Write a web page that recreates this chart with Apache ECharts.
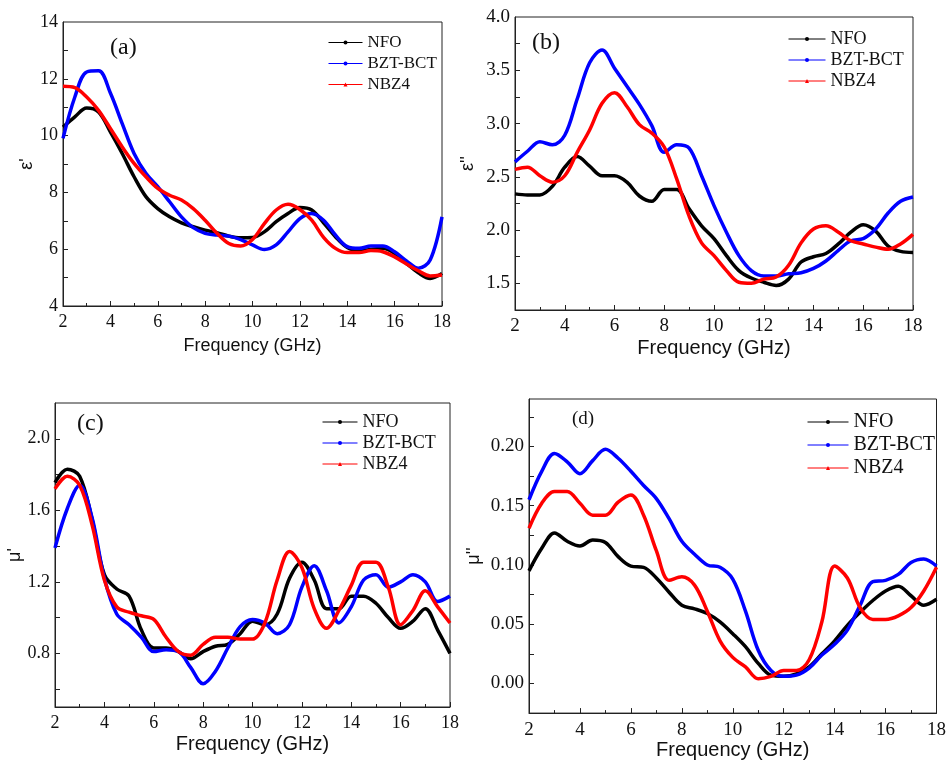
<!DOCTYPE html>
<html>
<head>
<meta charset="utf-8">
<script src="https://cdn.jsdelivr.net/npm/echarts@6/dist/echarts.min.js"></script>
<style>
  html, body { margin: 0; padding: 0; background: #fff; }
  #main { width: 949px; height: 761px; }
</style>
</head>
<body>
<div id="main"></div>
<script>
// frequency points (GHz), shared by all panels
const freq = [2, 2.5, 3, 3.5, 4, 4.5, 5, 5.5, 6, 6.5, 7, 7.5, 8, 8.5, 9, 9.5, 10,
  10.5, 11, 11.5, 12, 12.5, 13, 13.5, 14, 14.5, 15, 15.5, 16, 16.5, 17, 17.5, 18]

const names = ['NFO', 'BZT-BCT', 'NBZ4']

// (a) eps'
const epsRealNFO = [10.3, 10.66, 10.97, 10.83, 10.13, 9.37, 8.55, 7.85, 7.43, 7.14, 6.93, 6.79, 6.67, 6.58, 6.46, 6.40, 6.41,
  6.61, 6.97, 7.26, 7.47, 7.38, 6.93, 6.44, 6.06, 5.95, 5.99, 6.03, 5.85, 5.50, 5.17, 4.97, 5.15]
const epsRealBZT = [9.9, 11.36, 12.24, 12.28, 11.5, 10.42, 9.37, 8.67, 8.2, 7.67, 7.14, 6.76, 6.56, 6.50, 6.46, 6.34, 6.15,
  5.99, 6.15, 6.61, 7.08, 7.26, 7.02, 6.50, 6.09, 6.03, 6.11, 6.11, 5.91, 5.59, 5.33, 5.62, 7.14]
const epsRealNBZ = [11.74, 11.69, 11.36, 10.89, 10.25, 9.6, 9.02, 8.55, 8.14, 7.9, 7.73, 7.43, 7.02, 6.56, 6.2, 6.11, 6.34,
  6.9, 7.38, 7.58, 7.40, 7.02, 6.42, 6.03, 5.88, 5.88, 5.95, 5.91, 5.73, 5.48, 5.24, 5.06, 5.09]

// (b) eps''
const epsImagNFO = [2.34, 2.33, 2.33, 2.41, 2.59, 2.69, 2.60, 2.51, 2.51, 2.45, 2.32, 2.27, 2.38, 2.38, 2.20, 2.04, 1.92,
  1.76, 1.62, 1.55, 1.51, 1.48, 1.54, 1.70, 1.75, 1.78, 1.87, 1.98, 2.05, 1.99, 1.85, 1.80, 1.79]
const epsImagBZT = [2.64, 2.74, 2.83, 2.80, 2.89, 3.23, 3.57, 3.69, 3.52, 3.35, 3.18, 2.98, 2.73, 2.80, 2.77, 2.51, 2.23,
  1.98, 1.76, 1.62, 1.57, 1.57, 1.59, 1.60, 1.64, 1.71, 1.81, 1.90, 1.92, 2.01, 2.16, 2.27, 2.31]
const epsImagNBZ = [2.57, 2.59, 2.51, 2.45, 2.51, 2.73, 2.94, 3.19, 3.29, 3.16, 2.99, 2.91, 2.78, 2.48, 2.13, 1.88, 1.76,
  1.62, 1.51, 1.50, 1.54, 1.56, 1.67, 1.88, 2.01, 2.04, 1.98, 1.90, 1.87, 1.84, 1.82, 1.87, 1.96]

// (c) mu'
const muRealNFO = [1.755, 1.83, 1.79, 1.55, 1.24, 1.16, 1.12, 0.93, 0.83, 0.83, 0.81, 0.77, 0.81, 0.84, 0.85, 0.91, 0.98,
  0.96, 1.02, 1.22, 1.31, 1.21, 1.05, 1.05, 1.12, 1.12, 1.08, 1.0, 0.94, 0.98, 1.05, 0.93, 0.80]
const muRealBZT = [1.39, 1.61, 1.74, 1.56, 1.22, 1.02, 0.96, 0.89, 0.81, 0.82, 0.81, 0.72, 0.63, 0.70, 0.83, 0.95, 0.99,
  0.97, 0.91, 0.96, 1.17, 1.29, 1.15, 0.97, 1.06, 1.21, 1.24, 1.17, 1.20, 1.24, 1.20, 1.09, 1.12]
const muRealNBZ = [1.72, 1.79, 1.74, 1.52, 1.21, 1.06, 1.03, 1.01, 0.99, 0.89, 0.81, 0.79, 0.85, 0.89, 0.89, 0.88, 0.88,
  0.97, 1.21, 1.37, 1.28, 1.05, 0.94, 1.04, 1.18, 1.31, 1.31, 1.17, 0.96, 1.04, 1.15, 1.06, 0.97]

// (d) mu''
const muImagNFO = [0.095, 0.114, 0.127, 0.120, 0.116, 0.121, 0.119, 0.107, 0.099, 0.098, 0.089, 0.077, 0.066, 0.063, 0.059, 0.052, 0.042,
  0.031, 0.017, 0.007, 0.006, 0.008, 0.014, 0.025, 0.036, 0.049, 0.060, 0.070, 0.078, 0.082, 0.074, 0.066, 0.071]
const muImagBZT = [0.155, 0.179, 0.194, 0.187, 0.177, 0.188, 0.1975, 0.190, 0.179, 0.167, 0.156, 0.139, 0.120, 0.109, 0.100, 0.098, 0.088,
  0.061, 0.028, 0.011, 0.006, 0.007, 0.013, 0.024, 0.033, 0.045, 0.066, 0.086, 0.087, 0.092, 0.102, 0.105, 0.099]
const muImagNBZ = [0.131, 0.152, 0.162, 0.162, 0.152, 0.142, 0.142, 0.153, 0.159, 0.142, 0.112, 0.087, 0.090, 0.083, 0.061, 0.036, 0.022,
  0.014, 0.004, 0.006, 0.011, 0.011, 0.020, 0.052, 0.099, 0.089, 0.064, 0.054, 0.054, 0.057, 0.064, 0.078, 0.098]

// tick labels
const xTicks = [2, 4, 6, 8, 10, 12, 14, 16, 18]
const yTicksA = [4, 6, 8, 10, 12, 14]
const yTicksB = [1.5, 2.0, 2.5, 3.0, 3.5, 4.0]
const yTicksC = [0.8, 1.2, 1.6, 2.0]
const yTicksD = [0.00, 0.05, 0.10, 0.15, 0.20]

const colors = ['#000000', '#0000ff', '#ff0000']
const symbols = ['circle', 'circle', 'triangle']
const serif = 'Liberation Serif'
const sans = 'Liberation Sans'

var mainPage = document.getElementById('main')
var myChart = echarts.init(mainPage)

// panel layout, in page pixels
const panels = [
  { grid: { left: 63, top: 22, width: 379, height: 284 }, label: '(a)', lx: 110, ly: 36, lsize: 24,
    yName: "ε'", yGap: 22, xGap: 31, font: 18, nameFont: 18,
    y: { min: 4, max: 14, labels: yTicksA, ticks: [5, 6, 7, 8, 9, 10, 11, 12, 13], dec: 0 },
    legend: { left: 328, top: 34, w: 34, font: 17, gap: 4 },
    data: [epsRealNFO, epsRealBZT, epsRealNBZ] },
  { grid: { left: 515, top: 17, width: 398, height: 293 }, label: '(b)', lx: 532, ly: 31, lsize: 24,
    yName: "ε''", yGap: 38, xGap: 28, font: 19, nameFont: 20,
    y: { min: 1.25, max: 4.0, labels: yTicksB, ticks: [1.5, 1.75, 2, 2.25, 2.5, 2.75, 3, 3.25, 3.5, 3.75], dec: 1 },
    legend: { left: 788, top: 30, w: 37, font: 18, gap: 3 },
    data: [epsImagNFO, epsImagBZT, epsImagNBZ] },
  { grid: { left: 55, top: 403, width: 395, height: 304 }, label: '(c)', lx: 77, ly: 412, lsize: 24,
    yName: "μ'", yGap: 29, xGap: 27, font: 18, nameFont: 20,
    y: { min: 0.5, max: 2.2, labels: yTicksC, ticks: [0.6, 0.8, 1.0, 1.2, 1.4, 1.6, 1.8, 2.0], dec: 1 },
    legend: { left: 322, top: 413, w: 35, font: 18, gap: 3 },
    data: [muRealNFO, muRealBZT, muRealNBZ] },
  { grid: { left: 529, top: 399, width: 413, height: 318 }, label: '(d)', lx: 572, ly: 410, lsize: 19,
    yName: "μ''", yGap: 46, xGap: 26, font: 19, nameFont: 20,
    y: { min: -0.025, max: 0.24, labels: yTicksD, ticks: [0, 0.025, 0.05, 0.075, 0.1, 0.125, 0.15, 0.175, 0.2, 0.225], dec: 2 },
    legend: { left: 807, top: 412, w: 41, font: 20, gap: 3 },
    data: [muImagNFO, muImagBZT, muImagNBZ] }
]

const axisLine = { onZero: false, lineStyle: { color: '#222', width: 1 } }

const option = {
  backgroundColor: '#fff',
  animation: false,
  title: panels.map(p => ({
    text: p.label, left: p.lx, top: p.ly, padding: 0,
    textStyle: { fontFamily: serif, fontSize: p.lsize, fontWeight: 'normal', color: '#111' }
  })),
  legend: panels.map((p, i) => ({
    data: names,
    orient: 'vertical',
    left: p.legend.left,
    top: p.legend.top,
    padding: 0,
    itemWidth: p.legend.w,
    itemHeight: 5,
    itemGap: p.legend.gap,
    selectedMode: false,
    lineStyle: { width: 1 },
    textStyle: { fontFamily: serif, fontSize: p.legend.font, color: '#111' }
  })),
  grid: panels.map(p => Object.assign({ show: true, borderColor: '#222', borderWidth: 1, containLabel: false }, p.grid)),
  xAxis: panels.map((p, i) => ({
    type: 'value', gridIndex: i, min: 2, max: 18, interval: 2,
    name: 'Frequency (GHz)', nameLocation: 'middle', nameGap: p.xGap,
    nameTextStyle: { fontFamily: sans, fontSize: p.nameFont, color: '#111' },
    axisLine: axisLine,
    axisTick: { inside: true, length: 5, lineStyle: { color: '#222' } },
    minorTick: { show: true, splitNumber: 2, length: 3, lineStyle: { color: '#222' } },
    axisLabel: { fontFamily: serif, fontSize: p.font, color: '#111', margin: 7, customValues: xTicks },
    splitLine: { show: false }
  })),
  yAxis: panels.map((p, i) => ({
    type: 'value', gridIndex: i, min: p.y.min, max: p.y.max,
    name: p.yName, nameLocation: 'middle', nameGap: p.yGap,
    nameTextStyle: { fontFamily: sans, fontSize: 18, color: '#111' },
    axisLine: axisLine,
    axisTick: { inside: true, length: 5, customValues: p.y.ticks, lineStyle: { color: '#222' } },
    axisLabel: {
      fontFamily: serif, fontSize: p.font, color: '#111', margin: 5,
      customValues: p.y.labels,
      formatter: v => v.toFixed(p.y.dec)
    },
    splitLine: { show: false }
  })),
  series: []
}

panels.forEach((p, i) => {
  p.data.forEach((vals, k) => {
    option.series.push({
      name: names[k],
      type: 'line',
      xAxisIndex: i,
      yAxisIndex: i,
      data: freq.map((f, j) => [f, vals[j]]),
      smooth: 0.35,
      symbol: symbols[k],
      symbolSize: 5,
      showSymbol: false,
      color: colors[k],
      lineStyle: { color: colors[k], width: 3.5 },
      itemStyle: { color: colors[k] }
    })
  })
})

myChart.setOption(option)
</script>
</body>
</html>
